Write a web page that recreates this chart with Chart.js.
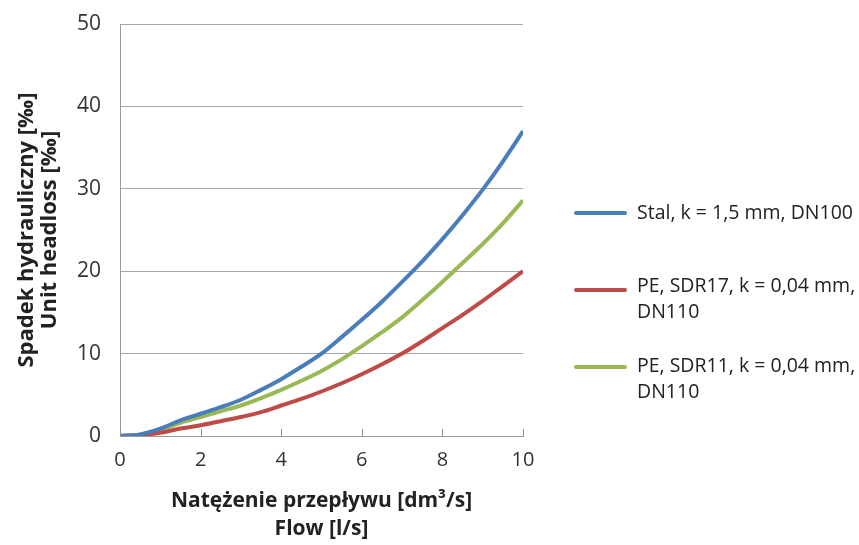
<!DOCTYPE html>
<html>
<head>
<meta charset="utf-8">
<script src="https://cdn.jsdelivr.net/npm/chart.js@4"></script>
<style>
  body { margin: 0; background: #fff; }
  #wrap { position: relative; width: 859px; height: 545px; }
  .leg-text { position: absolute; left: 637px; font: 19.5px "Open Sans", sans-serif; color: #222; line-height: 26px; white-space: nowrap; }
  .leg-sw { position: absolute; left: 574px; width: 53px; height: 4px; border-radius: 2px; }
</style>
</head>
<body>
<div id="wrap">
  <canvas id="headloss-chart" width="859" height="545"></canvas>
</div>
<script>
// flow [l/s]
const flow = [0, 0.5, 1, 1.5, 2, 2.5, 3, 3.5, 4, 4.5, 5, 5.5, 6, 6.5, 7, 7.5, 8, 8.5, 9, 9.5, 10];
// unit headloss [‰]
const stal = [0, 0.2, 0.9, 1.9, 2.7, 3.5, 4.4, 5.6, 6.9, 8.4, 10.0, 12.0, 14.1, 16.3, 18.7, 21.2, 23.9, 26.8, 29.9, 33.3, 37.0];
const sdr17 = [0, 0.1, 0.4, 0.9, 1.3, 1.8, 2.3, 2.9, 3.7, 4.5, 5.4, 6.4, 7.5, 8.7, 10.0, 11.5, 13.1, 14.7, 16.4, 18.2, 20.0];
const sdr11 = [0, 0.15, 0.75, 1.6, 2.3, 3.0, 3.7, 4.6, 5.6, 6.7, 7.9, 9.3, 10.9, 12.6, 14.4, 16.5, 18.7, 21.0, 23.3, 25.8, 28.6];
const seriesNames = ["Stal, k = 1,5 mm, DN100", "PE, SDR17, k = 0,04 mm, DN110", "PE, SDR11, k = 0,04 mm, DN110"];
const legendLines = [["Stal, k = 1,5 mm, DN100"], ["PE, SDR17, k = 0,04 mm,", "DN110"], ["PE, SDR11, k = 0,04 mm,", "DN110"]];
const colors = ["#4a7ebb", "#be4b48", "#98b954"];
const yTitle = ["Spadek hydrauliczny [‰]", "Unit headloss [‰]"];
const xTitle = ["Natężenie przepływu [dm³/s]", "Flow [l/s]"];

const toPoints = (ys) => flow.map((x, i) => ({ x: x, y: ys[i] }));
const allSeries = [stal, sdr17, sdr11];

// short tick marks on the x axis, pointing up into the plot
const innerTicks = {
  id: "innerTicks",
  afterDraw(chart) {
    const xs = chart.scales.x;
    const base = chart.chartArea.bottom;
    const c = chart.ctx;
    c.save();
    c.strokeStyle = "#8c8c8c";
    c.lineWidth = 1;
    xs.ticks.forEach((t) => {
      const px = Math.round(xs.getPixelForValue(t.value)) + 0.5;
      c.beginPath();
      c.moveTo(px, base);
      c.lineTo(px, base - 7);
      c.stroke();
    });
    c.restore();
  },
};

const ctx = document.getElementById("headloss-chart");
new Chart(ctx, {
  type: "line",
  data: {
    datasets: allSeries.map((ys, i) => ({
      label: seriesNames[i],
      data: toPoints(ys),
      borderColor: colors[i],
      backgroundColor: colors[i],
      borderWidth: 4,
      pointRadius: 0,
      cubicInterpolationMode: "monotone",
    })),
  },
  options: {
    responsive: false,
    animation: false,
    layout: { padding: { top: 24, right: 336, left: 0, bottom: 0 } },
    plugins: { legend: { display: false }, tooltip: { enabled: false } },
    scales: {
      x: {
        type: "linear",
        min: 0,
        max: 10,
        ticks: { stepSize: 2, color: "#333", font: { family: "Open Sans", size: 20 }, padding: 12 },
        grid: { drawOnChartArea: false, drawTicks: false },
        border: { color: "#999" },
        title: {
          display: true,
          text: xTitle,
          color: "#222",
          font: { family: "Open Sans", size: 21, weight: "bold", lineHeight: 1.33 },
          padding: { top: 0, bottom: 2 },
        },
        afterFit: (scale) => {
          scale.height = 109;
          scale.paddingTop = 0;
          scale.paddingBottom = 0;
        },
      },
      y: {
        min: 0,
        max: 50,
        ticks: { stepSize: 10, color: "#333", font: { family: "Open Sans", size: 21 }, padding: 19 },
        grid: { color: "#a6a6a6", drawTicks: false },
        border: { color: "#999" },
        title: {
          display: true,
          text: yTitle,
          color: "#222",
          font: { family: "Open Sans", size: 22, weight: "bold", lineHeight: 1.05 },
          padding: { top: 15, bottom: 15 },
        },
        afterFit: (scale) => {
          scale.width = 120;
          scale.paddingTop = 0;
          scale.paddingBottom = 0;
        },
      },
    },
  },
  plugins: [innerTicks],
});

// legend
const wrap = document.getElementById("wrap");
const textTops = [199, 272, 352];
const swatchTops = [211, 288, 365];
legendLines.forEach((lines, i) => {
  const sw = document.createElement("div");
  sw.className = "leg-sw";
  sw.style.top = swatchTops[i] + "px";
  sw.style.background = colors[i];
  wrap.appendChild(sw);
  const tx = document.createElement("div");
  tx.className = "leg-text";
  tx.style.top = textTops[i] + "px";
  tx.innerHTML = lines.join("<br>");
  wrap.appendChild(tx);
});
</script>
</body>
</html>
